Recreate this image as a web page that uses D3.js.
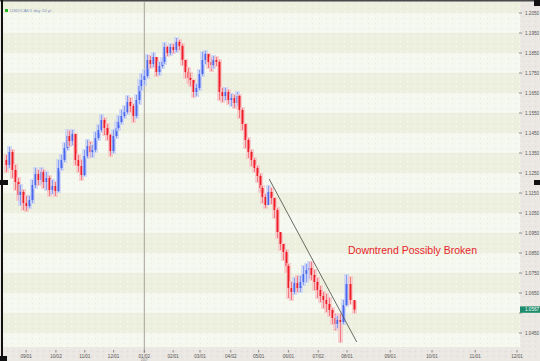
<!DOCTYPE html>
<html><head><meta charset="utf-8">
<script src="https://cdn.jsdelivr.net/npm/d3@7/dist/d3.min.js"></script>
<style>html,body{margin:0;padding:0;background:#fff;}svg{display:block;font-family:"Liberation Sans",Arial,sans-serif;}</style>
</head><body><div id="chart"></div>
<script>
const seriesName = "USD/CAD1 day  10 yr .";
const annotation = "Downtrend Possibly Broken";
const dates = ["2016-08-11","2016-08-14","2016-08-17","2016-08-20","2016-08-23","2016-08-26","2016-08-29","2016-09-01","2016-09-04","2016-09-07","2016-09-10","2016-09-13","2016-09-16","2016-09-19","2016-09-22","2016-09-25","2016-09-28","2016-10-01","2016-10-04","2016-10-07","2016-10-10","2016-10-13","2016-10-16","2016-10-19","2016-10-22","2016-10-25","2016-10-28","2016-10-31","2016-11-03","2016-11-06","2016-11-09","2016-11-12","2016-11-15","2016-11-18","2016-11-21","2016-11-24","2016-11-27","2016-11-30","2016-12-03","2016-12-06","2016-12-09","2016-12-12","2016-12-15","2016-12-18","2016-12-21","2016-12-24","2016-12-27","2016-12-30","2017-01-02","2017-01-05","2017-01-08","2017-01-11","2017-01-14","2017-01-17","2017-01-20","2017-01-23","2017-01-26","2017-01-29","2017-02-01","2017-02-04","2017-02-07","2017-02-10","2017-02-13","2017-02-16","2017-02-19","2017-02-22","2017-02-25","2017-02-28","2017-03-03","2017-03-06","2017-03-09","2017-03-12","2017-03-15","2017-03-18","2017-03-21","2017-03-24","2017-03-27","2017-03-30","2017-04-02","2017-04-05","2017-04-08","2017-04-11","2017-04-14","2017-04-17","2017-04-20","2017-04-23","2017-04-26","2017-04-29","2017-05-02","2017-05-05","2017-05-08","2017-05-11","2017-05-14","2017-05-17","2017-05-20","2017-05-23","2017-05-26","2017-05-29","2017-06-01","2017-06-04","2017-06-07","2017-06-10","2017-06-13","2017-06-16","2017-06-19","2017-06-22","2017-06-25","2017-06-28","2017-07-01","2017-07-04","2017-07-07","2017-07-10","2017-07-13","2017-07-16","2017-07-19","2017-07-22","2017-07-25","2017-07-28","2017-07-31","2017-08-03","2017-08-06"];
const firstOpen = 1.1315;
const close = [1.1290,1.1355,1.1265,1.1205,1.1140,1.1155,1.1100,1.1085,1.1115,1.1190,1.1245,1.1215,1.1255,1.1205,1.1225,1.1165,1.1185,1.1160,1.1275,1.1315,1.1375,1.1435,1.1410,1.1445,1.1315,1.1285,1.1240,1.1335,1.1385,1.1355,1.1365,1.1425,1.1465,1.1515,1.1475,1.1440,1.1360,1.1435,1.1475,1.1505,1.1535,1.1555,1.1605,1.1585,1.1535,1.1615,1.1685,1.1715,1.1735,1.1815,1.1795,1.1830,1.1755,1.1785,1.1805,1.1880,1.1850,1.1880,1.1865,1.1905,1.1885,1.1815,1.1755,1.1725,1.1715,1.1655,1.1675,1.1745,1.1815,1.1845,1.1805,1.1790,1.1815,1.1805,1.1655,1.1635,1.1655,1.1615,1.1625,1.1600,1.1635,1.1565,1.1495,1.1415,1.1355,1.1315,1.1275,1.1235,1.1175,1.1130,1.1090,1.1155,1.1125,1.1065,1.0955,1.0895,1.0855,1.0785,1.0675,1.0655,1.0700,1.0675,1.0705,1.0745,1.0765,1.0775,1.0740,1.0705,1.0665,1.0635,1.0615,1.0595,1.0565,1.0525,1.0495,1.0515,1.0505,1.0590,1.0695,1.0615,1.0567];
const high = [1.1340,1.1380,1.1365,1.1290,1.1225,1.1190,1.1165,1.1135,1.1135,1.1215,1.1275,1.1265,1.1275,1.1265,1.1255,1.1235,1.1215,1.1205,1.1315,1.1340,1.1400,1.1465,1.1460,1.1465,1.1445,1.1340,1.1315,1.1365,1.1415,1.1405,1.1390,1.1455,1.1490,1.1540,1.1525,1.1495,1.1445,1.1465,1.1505,1.1535,1.1565,1.1585,1.1635,1.1625,1.1595,1.1640,1.1715,1.1745,1.1765,1.1840,1.1835,1.1850,1.1825,1.1805,1.1825,1.1900,1.1885,1.1895,1.1895,1.1925,1.1915,1.1895,1.1815,1.1775,1.1750,1.1715,1.1695,1.1765,1.1855,1.1860,1.1845,1.1825,1.1835,1.1830,1.1815,1.1675,1.1675,1.1665,1.1645,1.1640,1.1655,1.1640,1.1575,1.1495,1.1425,1.1365,1.1325,1.1285,1.1245,1.1185,1.1145,1.1185,1.1175,1.1125,1.1075,1.0945,1.0895,1.0865,1.0795,1.0705,1.0725,1.0735,1.0735,1.0785,1.0795,1.0805,1.0805,1.0765,1.0725,1.0685,1.0655,1.0645,1.0625,1.0575,1.0545,1.0535,1.0545,1.0615,1.0740,1.0730,1.0605];
const low = [1.1255,1.1275,1.1225,1.1165,1.1115,1.1090,1.1065,1.1060,1.1075,1.1100,1.1175,1.1190,1.1195,1.1175,1.1165,1.1135,1.1145,1.1135,1.1155,1.1265,1.1305,1.1365,1.1385,1.1390,1.1290,1.1255,1.1215,1.1235,1.1325,1.1330,1.1330,1.1355,1.1415,1.1455,1.1440,1.1415,1.1335,1.1350,1.1425,1.1465,1.1495,1.1525,1.1545,1.1555,1.1505,1.1525,1.1595,1.1665,1.1690,1.1725,1.1775,1.1780,1.1735,1.1740,1.1775,1.1795,1.1835,1.1840,1.1850,1.1855,1.1865,1.1790,1.1725,1.1700,1.1685,1.1630,1.1635,1.1665,1.1735,1.1795,1.1775,1.1760,1.1775,1.1785,1.1615,1.1605,1.1615,1.1595,1.1585,1.1575,1.1585,1.1525,1.1465,1.1375,1.1325,1.1285,1.1255,1.1205,1.1155,1.1100,1.1075,1.1095,1.1095,1.1025,1.0925,1.0865,1.0815,1.0755,1.0625,1.0615,1.0645,1.0655,1.0655,1.0690,1.0705,1.0725,1.0715,1.0665,1.0625,1.0605,1.0575,1.0555,1.0535,1.0495,1.0465,1.0475,1.0405,1.0495,1.0585,1.0595,1.0550];
const xTickDates = ["2016-09-01","2016-10-02","2016-11-01","2016-12-01","2017-01-02","2017-02-01","2017-03-01","2017-04-02","2017-05-01","2017-06-01","2017-07-02","2017-08-01","2017-09-01","2017-10-01","2017-11-01","2017-12-01"];
const xTickLabels = ["09/01","10/02","11/01","12/01","01/02","02/01","03/01","04/02","05/01","06/01","07/02","08/01","09/01","10/01","11/01","12/01"];
const yTicks = [1.2050,1.1950,1.1850,1.1750,1.1650,1.1550,1.1450,1.1350,1.1250,1.1150,1.1050,1.0950,1.0850,1.0750,1.0650,1.0550,1.0450];
const markerDate = "2017-01-02";
const trendStart = {date:"2017-05-12", price:1.1220};
const trendEnd = {date:"2017-08-08", price:1.0405};

const W=540,H=361;
const parse=d3.timeParse("%Y-%m-%d");
const plot={l:3,r:520,t:2,b:347};
const svg=d3.select("#chart").append("svg").attr("width",W).attr("height",H);

// x: compressed (trading) past, calendar future
const x=d3.scaleTime()
  .domain([parse("2016-08-11"),parse("2017-08-01"),parse("2017-12-01")])
  .range([6,347,517]);
const y=d3.scaleLinear().domain([1.0450,1.2050]).range([333,13]);

const defs=svg.append("defs");
const pat=defs.append("pattern").attr("id","dots").attr("width",7).attr("height",5).attr("patternUnits","userSpaceOnUse");
pat.append("rect").attr("x",1).attr("y",1).attr("width",1).attr("height",1).attr("fill","#ffffff").attr("opacity",0.8);
pat.append("rect").attr("x",4).attr("y",3).attr("width",1).attr("height",1).attr("fill","#dcdcd0").attr("opacity",0.5);
const pat2=defs.append("pattern").attr("id","dots2").attr("width",6).attr("height",5).attr("patternUnits","userSpaceOnUse");
pat2.append("rect").attr("x",1).attr("y",1).attr("width",1).attr("height",1).attr("fill","#d2d0da").attr("opacity",0.7);
pat2.append("rect").attr("x",4).attr("y",3).attr("width",1).attr("height",1).attr("fill","#f6f2ee").attr("opacity",0.8);

// axis backgrounds
svg.append("rect").attr("x",0).attr("y",0).attr("width",W).attr("height",H).attr("fill","#ebe7e2");
svg.append("rect").attr("x",0).attr("y",0).attr("width",W).attr("height",H).attr("fill","url(#dots2)");
// plot background
const pg=svg.append("g");
pg.append("rect").attr("x",plot.l).attr("y",plot.t).attr("width",plot.r-plot.l).attr("height",plot.b-plot.t).attr("fill","#f4f8ee");
const step=0.01;
const bandTops=[y.domain()[1]+step].concat(yTicks.filter((d,i)=>i%2===1));
bandTops.forEach(p=>{
  const y0=Math.max(plot.t,y(p)), y1=Math.min(plot.b,y(p-step));
  if(y1>y0) pg.append("rect").attr("x",plot.l).attr("y",y0).attr("width",plot.r-plot.l).attr("height",y1-y0).attr("fill","#edf0df");
});
pg.append("rect").attr("x",plot.l).attr("y",plot.t).attr("width",plot.r-plot.l).attr("height",plot.b-plot.t).attr("fill","url(#dots)");

// marker vertical line
svg.append("line").attr("x1",x(parse(markerDate))).attr("x2",x(parse(markerDate)))
  .attr("y1",plot.t).attr("y2",353).attr("stroke","#aaa49c").attr("stroke-width",1);

// candles
const data=dates.map((d,i)=>({date:parse(d),open:i?close[i-1]:firstOpen,close:close[i],high:high[i],low:low[i]}));
const cg=svg.append("g");
data.forEach(d=>{
  const up=d.close>=d.open;
  const cx=Math.round(x(d.date));
  cg.append("rect").attr("x",cx-2).attr("y",y(d.high)-1).attr("width",5).attr("height",Math.max(1,y(d.low)-y(d.high))+2)
    .attr("fill",up?"#c4cef6":"#f8c0c3").attr("opacity",0.7);
  cg.append("rect").attr("x",cx).attr("y",y(d.high)).attr("width",1).attr("height",Math.max(1,y(d.low)-y(d.high)))
    .attr("fill",up?"#8a9ef0":"#f07a80");
  const t=Math.min(y(d.open),y(d.close)), b=Math.max(y(d.open),y(d.close));
  cg.append("rect").attr("x",cx-0.5).attr("y",t).attr("width",2).attr("height",Math.max(1.5,b-t))
    .attr("fill",up?"#4a68ee":"#ee1c26");
});

// trend line
svg.append("line").attr("x1",x(parse(trendStart.date))).attr("y1",y(trendStart.price))
  .attr("x2",x(parse(trendEnd.date))).attr("y2",y(trendEnd.price))
  .attr("stroke","#5a5a55").attr("stroke-width",0.9);

// annotation
svg.append("text").attr("x",348).attr("y",254).attr("font-size",10.5).attr("fill","#e8242c").text(annotation);

// right axis
const last=data[data.length-1];
const ya=svg.append("g");
yTicks.forEach(v=>{
  ya.append("line").attr("x1",519).attr("x2",522).attr("y1",y(v)).attr("y2",y(v)).attr("stroke","#777").attr("stroke-width",0.8);
  if(Math.abs(y(v)-y(last.close))>6.5)
    ya.append("text").attr("x",525).attr("y",y(v)+1.6).attr("font-size",4.6).attr("fill","#555").text(d3.format(".4f")(v));
});
// current price label
svg.append("rect").attr("x",520).attr("y",y(last.close)-3.2).attr("width",20).attr("height",6.4).attr("fill","#1e8c6c");
svg.append("text").attr("x",525).attr("y",y(last.close)+1.6).attr("font-size",4.6).attr("fill","#fff").text(d3.format(".4f")(last.close));

// bottom axis
const xa=svg.append("g");
xTickDates.forEach((d,i)=>{
  const px=x(parse(d));
  xa.append("line").attr("x1",px).attr("x2",px).attr("y1",350).attr("y2",352.5).attr("stroke","#777").attr("stroke-width",0.8);
  xa.append("text").attr("x",px).attr("y",358).attr("text-anchor","middle").attr("font-size",4.6).attr("fill","#555").text(xTickLabels[i]);
});
xa.append("text").attr("x",x(parse(markerDate))).attr("y",361).attr("text-anchor","middle").attr("font-size",3).attr("fill","#777").text("2017");

// legend
svg.append("rect").attr("x",5).attr("y",9).attr("width",3).attr("height",3).attr("fill","#22b822");
svg.append("text").attr("x",10).attr("y",12.3).attr("font-size",4.4).attr("fill","#7f90c4").text(seriesName);

// frame decorations
svg.append("rect").attr("x",0).attr("y",0).attr("width",W).attr("height",1.5).attr("fill","#4a4a4a");
svg.append("rect").attr("x",1).attr("y",0).attr("width",2).attr("height",358).attr("fill","#111");
svg.append("rect").attr("x",0).attr("y",180).attr("width",8).attr("height",5).attr("fill","#111");
svg.append("rect").attr("x",0).attr("y",356).attr("width",7).attr("height",5).attr("fill","#111");
svg.append("rect").attr("x",534).attr("y",0).attr("width",6).attr("height",6).attr("fill","#111");
svg.append("rect").attr("x",534).attr("y",180).attr("width",6).attr("height",5).attr("fill","#111");
</script></body></html>
